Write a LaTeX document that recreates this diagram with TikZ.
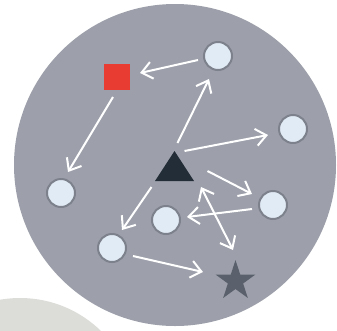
\documentclass[tikz,border=0pt]{standalone}
\usetikzlibrary{arrows.meta,shapes.geometric}
\definecolor{bigdisc}{HTML}{9DA0AA}
\definecolor{paledisc}{HTML}{DCDCD8}
\definecolor{nodefill}{HTML}{E1EBF5}
\definecolor{nodeedge}{HTML}{7D818B}
\definecolor{sqred}{HTML}{E83C32}
\definecolor{tridark}{HTML}{232D38}
\definecolor{stargray}{HTML}{5A606C}
\tikzset{
  dot/.style={circle,fill=nodefill,draw=nodeedge,line width=2pt,minimum size=28pt,inner sep=0pt},
  arr/.style={draw=white,line width=2pt,-{Straight Barb[length=10.5pt,width=17pt,line width=2pt]}},
  darr/.style={draw=white,line width=2pt,{Straight Barb[length=10.5pt,width=17pt,line width=2pt]}-{Straight Barb[length=10.5pt,width=17pt,line width=2pt]}},
}
\begin{document}
\begin{tikzpicture}[x=1pt,y=-1pt]
\useasboundingbox (0,0) rectangle (337,330);
\begin{scope}
\clip (0,0) rectangle (337,330);
\fill[paledisc] (20,414) circle[radius=116];
\fill[bigdisc] (175,165) circle[radius=161];
\end{scope}
% nodes
\node[dot] (tr) at (218,56) {};
\node[dot] (r) at (293,129) {};
\node[dot] (l) at (61,193) {};
\node[dot] (rl) at (273,205) {};
\node[dot] (m) at (166,220) {};
\node[dot] (bl) at (112,248) {};
\node[fill=sqred,minimum size=26pt,inner sep=0pt] (sq) at (117,77) {};
\coordinate (tri) at (174.5,170);
\fill[tridark] ([shift={(0,-19)}]tri) -- ([shift={(19.5,11)}]tri) -- ([shift={(-19.5,11)}]tri) -- cycle;
\node[star,star points=5,star point ratio=2.618,fill=stargray,minimum size=42pt,inner sep=0pt] (st) at (235.5,281) {};
% arrows
\draw[arr] ([shift={(-20,4)}]tr.center) -- ([shift={(23,-4)}]sq.center);
\draw[arr] ([shift={(-4,20)}]sq.center) -- ([shift={(7,-21)}]l.center);
\draw[arr] ([shift={(3,-27)}]tri) -- ([shift={(-9,23)}]tr.center);
\draw[arr] ([shift={(10,-19)}]tri) -- ([shift={(-25,6)}]r.center);
\draw[arr] ([shift={(33,1)}]tri) -- ([shift={(-21,-11)}]rl.center);
\draw[arr] ([shift={(-23,17)}]tri) -- ([shift={(10,-18)}]bl.center);
\draw[arr] ([shift={(-21,4)}]rl.center) -- ([shift={(21,-3)}]m.center);
\draw[darr] ([shift={(26.5,17)}]tri) -- ([shift={(-2.5,-31)}]st.center);
\draw[arr] ([shift={(21,8)}]bl.center) -- ([shift={(-32.5,-9)}]st.center);
\end{tikzpicture}
\end{document}
